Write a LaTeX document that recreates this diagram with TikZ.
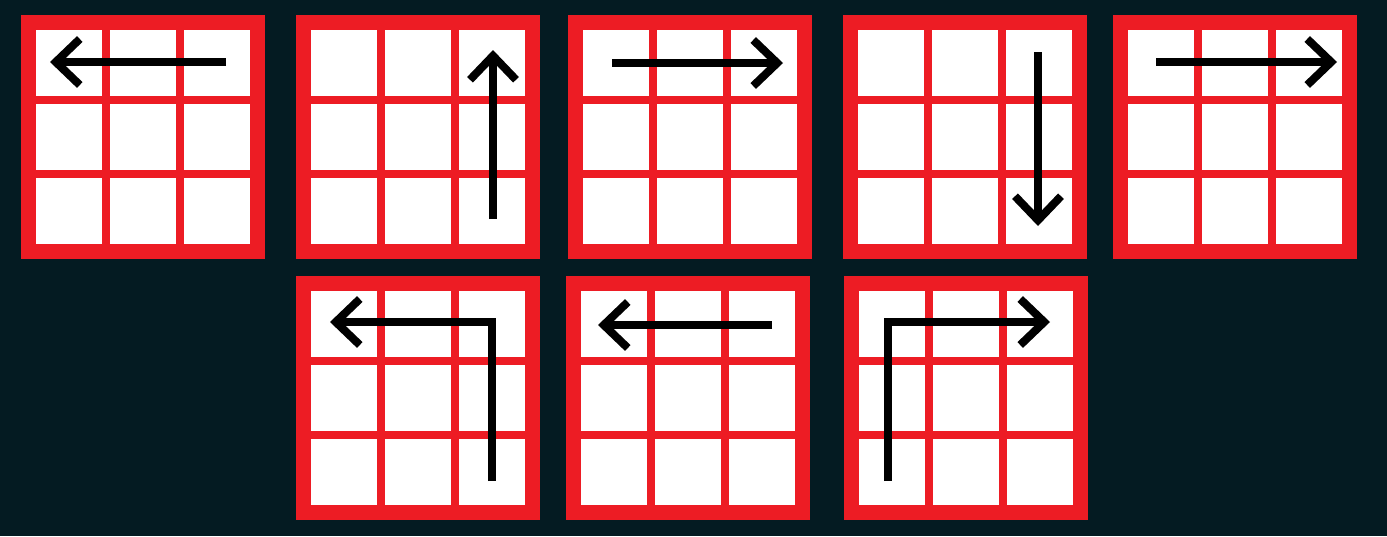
\documentclass[tikz,border=0pt]{standalone}
\usetikzlibrary{arrows.meta}
\definecolor{bg}{HTML}{041B22}
\definecolor{gridred}{HTML}{ED1C24}
\tikzset{
  x=1pt, y=-1pt,
  arrowline/.style={line width=8pt, line join=miter,
    -{Straight Barb[length=24pt,width=46pt]}},
}
\newcommand\gridbox[2]{%
  \fill[gridred] (#1,#2) rectangle ++(244,244);
  \foreach \i in {0,1,2}{\foreach \j in {0,1,2}{
    \fill[white] ({#1+15+\i*74},{#2+15+\j*74}) rectangle ++(66,66);}}
}
\begin{document}
\begin{tikzpicture}
\fill[bg] (0,0) rectangle (1387,536);
\useasboundingbox (0,0) rectangle (1387,536);
% top row
\gridbox{21}{15}
\gridbox{296}{15}
\gridbox{568}{15}
\gridbox{843}{15}
\gridbox{1113}{15}
% bottom row
\gridbox{296}{276}
\gridbox{566}{276}
\gridbox{844}{276}
% arrow coordinates
\coordinate (a1s) at (226,62);  \coordinate (a1e) at (50,62);
\coordinate (a2s) at (493,219); \coordinate (a2e) at (493,50);
\coordinate (a3s) at (612,63);  \coordinate (a3e) at (783,63);
\coordinate (a4s) at (1038,52); \coordinate (a4e) at (1038,226);
\coordinate (a5s) at (1156,62); \coordinate (a5e) at (1337,62);
\coordinate (a6s) at (492,481); \coordinate (a6c) at (492,322); \coordinate (a6e) at (330,322);
\coordinate (a7s) at (772,325); \coordinate (a7e) at (598,325);
\coordinate (a8s) at (888,481); \coordinate (a8c) at (888,322); \coordinate (a8e) at (1050,322);
% arrows
\draw[arrowline] (a1s) -- (a1e);
\draw[arrowline] (a2s) -- (a2e);
\draw[arrowline] (a3s) -- (a3e);
\draw[arrowline] (a4s) -- (a4e);
\draw[arrowline] (a5s) -- (a5e);
\draw[arrowline] (a6s) -- (a6c) -- (a6e);
\draw[arrowline] (a7s) -- (a7e);
\draw[arrowline] (a8s) -- (a8c) -- (a8e);
\end{tikzpicture}
\end{document}
